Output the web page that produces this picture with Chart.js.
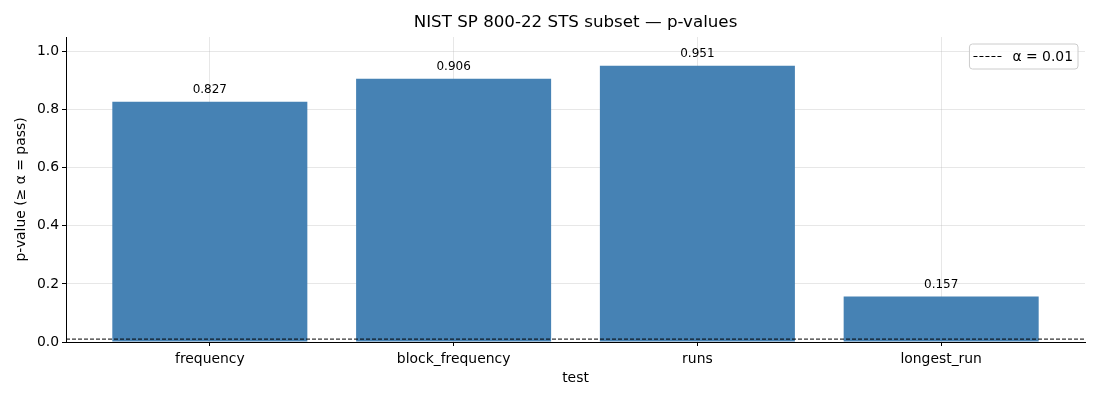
<!DOCTYPE html>
<html>
<head>
<meta charset="utf-8">
<script src="https://cdn.jsdelivr.net/npm/chart.js@4/dist/chart.umd.min.js"></script>
<style>
  html, body { margin: 0; padding: 0; background: #fff; }
</style>
</head>
<body>
<canvas id="BarChart" width="1100" height="400"></canvas>
<script>
const tests = ['frequency', 'block_frequency', 'runs', 'longest_run'];
const pValues = [0.827, 0.906, 0.951, 0.157];
const alpha = 0.01;
const yTicks = [0, 0.2, 0.4, 0.6, 0.8, 1.0];
const chartTitle = 'NIST SP 800-22 STS subset — p-values';

const xMin = -0.59;
const xMax = tests.length - 1 + 0.59;
const font = "'DejaVu Sans', sans-serif";

// title centred over the plot area, like matplotlib does
const axesTitle = {
    id: 'axesTitle',
    afterDraw(chart) {
        const ctx = chart.ctx;
        const area = chart.chartArea;
        ctx.save();
        ctx.font = '16.7px ' + font;
        ctx.fillStyle = '#000';
        ctx.textAlign = 'center';
        ctx.textBaseline = 'middle';
        ctx.fillText(chartTitle, (area.left + area.right) / 2, 23);
        ctx.restore();
    }
};

// value labels on top of the bars
const barLabels = {
    id: 'barLabels',
    afterDatasetsDraw(chart) {
        const ctx = chart.ctx;
        const meta = chart.getDatasetMeta(1);
        ctx.save();
        ctx.font = '12px ' + font;
        ctx.fillStyle = '#000';
        ctx.textAlign = 'center';
        ctx.textBaseline = 'bottom';
        meta.data.forEach((bar, i) => {
            ctx.fillText(pValues[i].toFixed(3), bar.x, bar.y - 6);
        });
        ctx.restore();
    }
};

// matplotlib style legend box
const boxLegend = {
    id: 'boxLegend',
    afterDraw(chart) {
        const ctx = chart.ctx;
        const area = chart.chartArea;
        const label = chart.data.datasets[0].label;
        ctx.save();
        ctx.font = '13.9px ' + font;
        const w = 28 + 12 + ctx.measureText(label).width + 8;
        const h = 25;
        const x = area.right - 7 - w;
        const y = area.top + 7;
        ctx.beginPath();
        ctx.roundRect(x, y, w, h, 3);
        ctx.fillStyle = 'rgba(255,255,255,0.8)';
        ctx.fill();
        ctx.strokeStyle = '#cccccc';
        ctx.lineWidth = 1;
        ctx.stroke();
        ctx.beginPath();
        ctx.setLineDash([4, 2]);
        ctx.strokeStyle = '#000';
        ctx.moveTo(x + 4, y + h / 2);
        ctx.lineTo(x + 32, y + h / 2);
        ctx.stroke();
        ctx.setLineDash([]);
        ctx.fillStyle = '#000';
        ctx.textBaseline = 'middle';
        ctx.fillText(label, x + 43, y + h / 2 + 1);
        ctx.restore();
    }
};

new Chart(document.getElementById('BarChart'), {
    data: {
        datasets: [{
            type: 'line',
            label: 'α = ' + alpha,
            data: [{ x: xMin, y: alpha }, { x: xMax, y: alpha }],
            borderColor: '#000',
            borderWidth: 1,
            borderDash: [4, 2],
            pointRadius: 0,
            order: 0
        }, {
            type: 'bar',
            label: 'p-value',
            data: pValues.map((v, i) => ({ x: i, y: v })),
            backgroundColor: '#4682b4',
            barPercentage: 0.8,
            categoryPercentage: 1,
            order: 1
        }]
    },
    plugins: [axesTitle, barLabels, boxLegend],
    options: {
        responsive: false,
        animation: false,
        devicePixelRatio: 1,
        layout: { padding: { left: 0, right: 15, top: 37, bottom: 0 } },
        plugins: {
            legend: { display: false },
            tooltip: { enabled: false },
            title: { display: false }
        },
        scales: {
            x: {
                type: 'linear',
                min: xMin,
                max: xMax,
                offset: false,
                z: 1,
                afterBuildTicks: (scale) => {
                    scale.ticks = tests.map((t, i) => ({ value: i }));
                },
                afterFit: (scale) => { scale.height = 58; },
                ticks: {
                    callback: (v) => tests[v],
                    color: '#000',
                    font: { family: font, size: 13.9 },
                    padding: 5,
                    maxRotation: 0
                },
                grid: {
                    offset: false,
                    color: 'rgba(176,176,176,0.3)',
                    tickColor: '#000',
                    tickLength: 4
                },
                border: { color: '#000', width: 1 },
                title: {
                    display: true,
                    text: 'test',
                    color: '#000',
                    font: { family: font, size: 13.9 },
                    padding: { top: 2, bottom: 13 }
                }
            },
            y: {
                min: 0,
                max: 1.05,
                z: 1,
                afterBuildTicks: (scale) => {
                    scale.ticks = yTicks.map((v) => ({ value: v }));
                },
                afterFit: (scale) => { scale.width = 66; },
                ticks: {
                    callback: (v) => v.toFixed(1),
                    color: '#000',
                    font: { family: font, size: 13.9 },
                    padding: 3
                },
                grid: {
                    color: 'rgba(176,176,176,0.3)',
                    tickColor: '#000',
                    tickLength: 4
                },
                border: { color: '#000', width: 1 },
                title: {
                    display: true,
                    text: 'p-value (≥ α = pass)',
                    color: '#000',
                    font: { family: font, size: 13.9 },
                    padding: { top: 13, bottom: 4 }
                }
            }
        }
    }
});
</script>
</body>
</html>
